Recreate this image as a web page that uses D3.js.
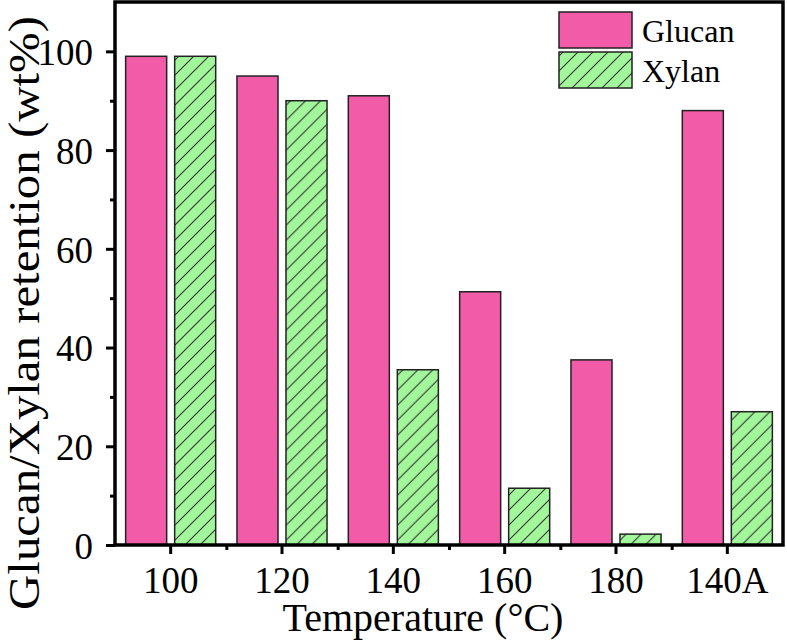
<!DOCTYPE html>
<html><head><meta charset="utf-8">
<script src="https://cdn.jsdelivr.net/npm/d3@7"></script>
<style>body{margin:0;background:#fff}svg{display:block}text{font-family:"Liberation Serif","Times New Roman",serif;fill:#000}</style>
</head><body>
<script>
const categories = ["100","120","140","160","180","140A"];
const seriesNames = ["Glucan","Xylan"];
const glucan = [99, 95, 91, 51.3, 37.5, 88];
const xylan = [99, 90, 35.5, 11.5, 2.2, 27];
const yTicks = [0,20,40,60,80,100];
const yMinorTicks = [10,30,50,70,90];
const colors = {Glucan:"#F25BA8", Xylan:"#A2F79B"};

const W=787,H=640;
const L=115,R=783,T=2,B=545;
const svg=d3.select("body").append("svg").attr("width",W).attr("height",H);
const defs=svg.append("defs");
const pat=defs.append("pattern").attr("id","hatch").attr("patternUnits","userSpaceOnUse").attr("width",15).attr("height",15);
pat.append("rect").attr("width",15).attr("height",15).attr("fill",colors.Xylan);
pat.append("path").attr("d","M-2,2 L2,-2 M0,15 L15,0 M13,17 L17,13").attr("stroke","#333").attr("stroke-width",1.1);

const x=d3.scaleBand().domain(categories).range([L,R]).padding(0);
const xs=d3.scaleBand().domain(seriesNames).range([0,x.bandwidth()]).paddingInner(0.163).paddingOuter(0.217);
const y=d3.scaleLinear().domain([0,110]).range([B,T]);

const data=categories.map((c,i)=>({c,vals:[{s:"Glucan",v:glucan[i]},{s:"Xylan",v:xylan[i]}]}));
const g=svg.append("g");
g.selectAll("g.cat").data(data).join("g").attr("transform",d=>`translate(${x(d.c)},0)`)
 .selectAll("rect").data(d=>d.vals).join("rect")
 .attr("x",d=>xs(d.s)).attr("width",xs.bandwidth())
 .attr("y",d=>y(d.v)).attr("height",d=>y(0)-y(d.v))
 .attr("fill",d=>d.s==="Glucan"?colors.Glucan:"url(#hatch)")
 .attr("stroke","#222").attr("stroke-width",1.5);

// frame
svg.append("rect").attr("x",L).attr("y",T).attr("width",R-L).attr("height",B-T).attr("fill","none").attr("stroke","#000").attr("stroke-width",3.5);

// y axis
const ya=svg.append("g").attr("transform",`translate(${L},0)`);
ya.call(d3.axisLeft(y).tickValues(yTicks).tickSize(9).tickPadding(13).tickFormat(d3.format("d")));
ya.select(".domain").remove();
ya.selectAll(".tick line").attr("stroke-width",3);
ya.selectAll("text").style("font-size","37px").attr("dy","0.36em");
const yam=svg.append("g").attr("transform",`translate(${L},0)`);
yam.call(d3.axisLeft(y).tickValues(yMinorTicks).tickSize(5).tickFormat(""));
yam.select(".domain").remove();
yam.selectAll(".tick line").attr("stroke-width",3);

// x axis
const xa=svg.append("g").attr("transform",`translate(0,${B})`);
xa.call(d3.axisBottom(x).tickSize(9).tickPadding(13));
xa.select(".domain").remove();
xa.selectAll(".tick line").attr("stroke-width",3);
xa.selectAll("text").style("font-size","37px");
const xl=d3.scaleLinear().domain([0,categories.length]).range([L,R]);
const xm=svg.append("g").attr("transform",`translate(0,${B})`);
xm.call(d3.axisBottom(xl).tickValues(d3.range(1,categories.length)).tickSize(5).tickFormat(""));
xm.select(".domain").remove();
xm.selectAll(".tick line").attr("stroke-width",3);

// titles
svg.append("text").attr("x",423).attr("y",631).attr("text-anchor","middle").style("font-size","40px").text("Temperature (°C)");
svg.append("text").attr("transform",`translate(39,313) rotate(-90) scale(1.11,1)`).attr("text-anchor","middle").style("font-size","44px").text("Glucan/Xylan retention (wt%)");

// legend
const leg=svg.append("g");
seriesNames.forEach((s,i)=>{
  const yy=12+i*40;
  leg.append("rect").attr("x",559).attr("y",yy).attr("width",73).attr("height",36)
    .attr("fill",s==="Glucan"?colors.Glucan:"url(#hatch)").attr("stroke","#222").attr("stroke-width",1.5);
  leg.append("text").attr("x",642).attr("y",yy+30).style("font-size","32px").text(s);
});
</script>
</body></html>
